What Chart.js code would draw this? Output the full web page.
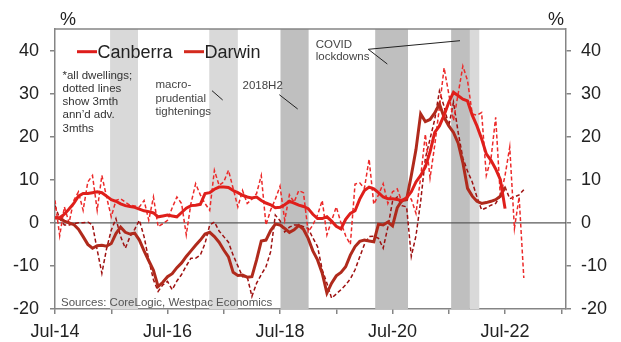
<!DOCTYPE html>
<html>
<head>
<meta charset="utf-8">
<script src="https://cdn.jsdelivr.net/npm/chart.js@4.4.0/dist/chart.umd.min.js"></script>
<style>
  body { margin: 0; background: #fff; }
  canvas { display: block; }
</style>
</head>
<body>
<canvas id="chart" width="621" height="342"></canvas>
<script>
// months counted from Jul-14 (0 = Jul-14, 12 = Jul-15 ...)
const yearLabels = ['Jul-14', 'Jul-15', 'Jul-16', 'Jul-17', 'Jul-18', 'Jul-19', 'Jul-20', 'Jul-21', 'Jul-22', 'Jul-23'];

// annual dwelling price growth, %
const canberra = [
  1.2, 1.2, 2.0, 3.2, 4.5, 6.2, 6.8, 6.8, 7.0, 7.2,
  7.0, 6.2, 5.4, 5.0, 4.4, 4.0, 3.8, 3.6, 3.2, 2.8,
  2.6, 2.3, 1.4, 1.6, 1.8, 1.6, 1.4, 2.4, 3.4, 4.0,
  4.1, 4.3, 6.8, 7.0, 7.8, 8.3, 8.3, 8.2, 7.5, 7.0,
  6.4, 6.0, 5.8, 6.0, 5.2, 4.6, 4.2, 3.5, 3.6, 4.2,
  5.0, 4.6, 4.1, 3.8, 3.3, 2.0, 1.0, 1.0, 1.4, 0.4,
  -0.8, -1.4, 0.8, 2.2, 2.8, 5.5, 7.5, 8.3, 7.9, 7.0,
  6.0, 5.6, 5.6, 5.4, 5.2, 5.8, 7.2, 9.5, 11, 13,
  16.5, 21, 22.5, 25, 28, 30.3, 29.5, 28.7, 28.3, 25,
  22.5, 19.5, 16, 14.5, 12.5, 10, 3.3
];
const darwin = [
  1.2, 1.0, 0.4, 0.0, -0.4, -1.5, -3.2, -5.0, -5.9, -5.3,
  -5.2, -5.4, -4.8, -2.5, -1.0, -2.2, -2.6, -2.4, -4.0, -6.5,
  -8.8, -11.0, -14.8, -13.8, -12.5, -11.8, -10.4, -9.3, -7.8, -6.5,
  -5.2, -4.0, -2.6, -2.2, -3.2, -4.5, -6.3, -7.9, -11.5, -12.2,
  -12.1, -12.6, -12.5, -8.6, -4.2, -4.0, -1.8, -0.3, -0.5, -1.3,
  -2.2, -1.6, -0.6, -1.5, -3.6, -6.5, -8.6, -11.7, -16.3, -14.0,
  -12.3, -11.5, -10.2, -7.5, -5.5, -4.3, -4.0, -4.2, -4.4, -0.3,
  -0.5, 0.2, -0.7, 3.5, 5.2, 5.4, 11.0, 17.0, 25.3, 23.5,
  24.0, 25.5, 27.6, 24.5, 22.5, 21.0, 18.5, 14.0, 8.0, 6.2,
  5.0, 4.5, 4.7, 5.0, 5.4, 6.2, 8.3
];

// 3mth annualised growth, advanced 3 months
const canberra3m = [
  5.2, -3.0, 3.7, 0.0, 5.2, 7.2, 2.9, 9.5, 11.0, 2.9,
  11.0, 6.0, 1.4, 5.2, 5.6, 4.8, 4.1, 3.9, 3.7, 5.2,
  0.6, 6.0, -0.9, -0.2, 0.6, 3.5, 6.0, 4.5, -2.8, 4.5,
  9.1, 6.5, 4.5, 2.9, 12.2, 8.7, 9.5, 12.2, 8.0, 3.7,
  7.5, 4.5, 5.5, 6.8, 11.0, -0.5, 3.0, 5.5, 8.5, 0.6,
  6.5, 4.8, 7.5, 7.0, -2.1, -0.5, 1.8, 5.2, -2.8, 0.5,
  3.7, 0.0, -3.0, -5.0, 9.0, 9.3, 8.0, 14.8, 4.3, 6.5,
  9.1, 4.5, 7.2, 7.9, 4.8, 6.0, 5.5, 2.2, 10.6, 20.6,
  10.4, 18.0, 26.8, 36.0, 29.9, 23.7, 30.0, 36.4, 33.0, 25.3,
  25.0, 25.6, 11.0, 14.9, 24.5, 6.0, 11.0, 17.6, -1.3, 6.0,
  -12.8
];
const darwin3m = [
  4.0, 1.0, -0.5, -0.5, -0.2, 0.0, 0.0, 0.2, -0.5, -6.3,
  -11.7, -6.0, -1.7, 1.0, -3.2, -5.9, -3.2, -1.5, 0.6, -3.2,
  -8.6, -13.2, -15.9, -14.4, -13.6, -15.5, -13.5, -12.0, -10.0, -8.2,
  -8.2, -7.5, -4.8, -0.5, 0.2, -1.9, -3.2, -4.5, -7.5, -10.0,
  -12.5, -12.5, -17.1, -14.0, -12.0, -10.2, -6.7, 1.8, 0.5, -2.1,
  -1.0, -0.5, -0.5, -0.9, -1.3, -3.5, -5.5, -10.9, -14.0, -17.5,
  -16.5, -15.5, -14.4, -13.0, -10.9, -7.9, -5.0, -3.2, -3.1, -3.6,
  -5.9, -1.0, 5.0, 6.0, 4.0, 3.7, -7.8, -3.0, 5.0, 15.0,
  19.5, 24.0, 30.6, 27.0, 22.5, 28.0, 21.0, 15.0, 12.0, 9.5,
  6.0, 3.0, 3.5, 4.1, 4.5, 6.4, 8.3, 5.6, 6.0, 6.5,
  7.7
];

// shaded periods, in months from Jul-14
const lightBands = [[11.75, 17.7], [32.9, 39.0], [88.5, 90.5]];
const darkBands = [[48.1, 54.1], [68.3, 75.3], [84.5, 88.5]];

const FONT = 'Arial, "Liberation Sans", sans-serif';
const AXIS = '#858585';

function pts(arr) {
    return arr.map((v, i) => ({ x: i, y: v }));
}

const extras = {
    id: 'extras',
    beforeDatasetsDraw(chart) {
        const { ctx, chartArea: a, scales: { x, y } } = chart;
        ctx.save();
        const shade = (list, col) => list.forEach(b => {
            const x0 = x.getPixelForValue(b[0]);
            const x1 = x.getPixelForValue(b[1]);
            ctx.fillStyle = col;
            ctx.fillRect(x0, a.top, x1 - x0, a.bottom - a.top);
        });
        shade(lightBands, '#d9d9d9');
        shade(darkBands, '#bfbfbf');
        // zero line
        const y0 = y.getPixelForValue(0);
        ctx.strokeStyle = '#5a5a5a';
        ctx.lineWidth = 1.2;
        ctx.beginPath();
        ctx.moveTo(a.left, y0);
        ctx.lineTo(a.right, y0);
        ctx.stroke();
        ctx.restore();
    },
    afterDraw(chart) {
        const { ctx, chartArea: a } = chart;
        const L = a.left;
        ctx.save();
        // top frame
        ctx.strokeStyle = AXIS;
        ctx.lineWidth = 1.5;
        ctx.beginPath();
        ctx.moveTo(a.left, a.top);
        ctx.lineTo(a.right, a.top);
        ctx.stroke();

        // % units
        ctx.fillStyle = '#222';
        ctx.font = '18px ' + FONT;
        ctx.textBaseline = 'alphabetic';
        ctx.textAlign = 'left';
        ctx.fillText('%', 60, 25);
        ctx.fillText('%', 548, 25);

        // legend
        const legend = [['Canberra', '#de1d1b', 22], ['Darwin', '#d42a1e', 129]];
        legend.forEach(([name, col, off]) => {
            ctx.strokeStyle = col;
            ctx.lineWidth = 3;
            ctx.beginPath();
            ctx.moveTo(L + off, 51.7);
            ctx.lineTo(L + off + 20, 51.7);
            ctx.stroke();
            ctx.fillStyle = '#222';
            ctx.fillText(name, L + off + 20.5, 58);
        });

        // notes
        ctx.font = '11.5px ' + FONT;
        ctx.fillStyle = '#333';
        ['*all dwellings;', 'dotted lines', 'show 3mth', 'ann\u2019d adv.', '3mths']
            .forEach((s, i) => ctx.fillText(s, L + 7.5, 78.5 + i * 13.3));
        ctx.fillStyle = '#444';
        ['macro-', 'prudential', 'tightenings']
            .forEach((s, i) => ctx.fillText(s, 155.5, 88.3 + i * 13.2));
        ctx.fillText('2018H2', 242.5, 89.3);
        ctx.fillText('COVID', 315.7, 47.7);
        ctx.fillText('lockdowns', 315.7, 60.2);

        ctx.strokeStyle = '#222';
        ctx.lineWidth = 1;
        const seg = (x0, y0, x1, y1) => {
            ctx.beginPath();
            ctx.moveTo(x0, y0);
            ctx.lineTo(x1, y1);
            ctx.stroke();
        };
        seg(212, 90.7, 222.7, 100);
        seg(279.3, 94.7, 297.7, 109);
        seg(368.3, 49.3, 460, 40.7);
        seg(368.3, 49.3, 387.3, 64);

        ctx.fillStyle = '#555';
        ctx.fillText('Sources: CoreLogic, Westpac Economics', 61, 305.5);
        ctx.restore();
    }
};

const ctx = document.getElementById('chart').getContext('2d');
new Chart(ctx, {
    type: 'line',
    data: {
        datasets: [
            { label: 'Canberra', data: pts(canberra), borderColor: '#df1f1b', borderWidth: 3 },
            { label: 'Darwin', data: pts(darwin), borderColor: '#b02a1c', borderWidth: 3 },
            { label: 'Canberra 3m', data: pts(canberra3m), borderColor: '#ec2a2a', borderWidth: 1.5, borderDash: [4, 2.5] },
            { label: 'Darwin 3m', data: pts(darwin3m), borderColor: '#9e1010', borderWidth: 1.5, borderDash: [4, 2.5] }
        ]
    },
    options: {
        responsive: false,
        animation: false,
        layout: { padding: { top: 29, left: 0, right: 0, bottom: 0 } },
        elements: {
            point: { radius: 0 },
            line: { tension: 0, fill: false, borderCapStyle: 'butt' }
        },
        plugins: {
            legend: { display: false },
            tooltip: { enabled: false }
        },
        scales: {
            x: {
                type: 'linear',
                min: 0,
                max: 109,
                afterFit: s => { s.height = 33; },
                border: { display: true, color: AXIS, width: 1.5 },
                grid: { drawOnChartArea: false, drawTicks: true, tickLength: 5, color: AXIS, lineWidth: 1.5 },
                ticks: {
                    stepSize: 12,
                    includeBounds: false,
                    autoSkip: false,
                    maxRotation: 0,
                    padding: 7,
                    color: '#222',
                    font: { family: FONT, size: 18 },
                    callback: v => (v % 24 === 0 ? yearLabels[v / 12] : '')
                }
            },
            y: {
                position: 'left',
                min: -20,
                max: 45,
                afterFit: s => { s.width = 55; },
                border: { display: true, color: AXIS, width: 1.5 },
                grid: { drawOnChartArea: false, drawTicks: true, tickLength: 5, color: AXIS, lineWidth: 1.5 },
                ticks: {
                    stepSize: 10,
                    includeBounds: false,
                    padding: 11,
                    color: '#222',
                    font: { family: FONT, size: 18 }
                }
            },
            y2: {
                position: 'right',
                min: -20,
                max: 45,
                afterFit: s => { s.width = 55; },
                border: { display: true, color: AXIS, width: 1.5 },
                grid: { drawOnChartArea: false, drawTicks: true, tickLength: 5, color: AXIS, lineWidth: 1.5 },
                ticks: {
                    stepSize: 10,
                    includeBounds: false,
                    padding: 10,
                    color: '#222',
                    font: { family: FONT, size: 18 }
                }
            }
        }
    },
    plugins: [extras]
});
</script>
</body>
</html>
